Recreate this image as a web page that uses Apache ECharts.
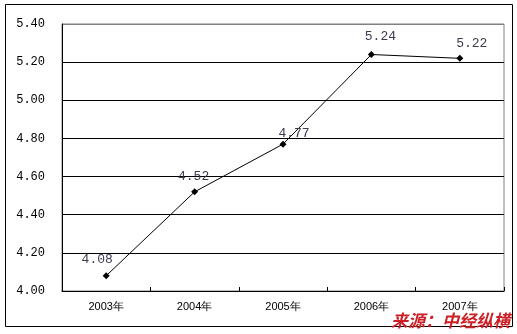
<!DOCTYPE html>
<html><head><meta charset="utf-8">
<script src="https://cdn.jsdelivr.net/npm/echarts@6/dist/echarts.min.js"></script>
<style>html,body{margin:0;padding:0;background:#fff}#c{width:517px;height:334px}</style>
</head><body><div id="c"></div>
<script>
var categories = ['2003年','2004年','2005年','2006年','2007年'];
var values = [4.08, 4.52, 4.77, 5.24, 5.22];
var labelOffsets = [[-9,3],[-1,4],[11,8],[9,1],[12,4]];
var yTicks = {min:4.0, max:5.4, interval:0.2};
var sourceText = '来源：中经纵横';

var chart = echarts.init(document.getElementById('c'));
var data = values.map(function(v,i){
  return {value:v, label:{offset:labelOffsets[i]}};
});
chart.setOption({
  animation:false,
  backgroundColor:'#fff',
  grid:{left:62, top:24, right:13, bottom:43, show:true, borderColor:'#808080', borderWidth:1, backgroundColor:'transparent'},
  xAxis:{type:'category', data:categories, boundaryGap:true,
    axisLine:{lineStyle:{color:'#000', width:1}},
    axisTick:{show:true, inside:true, length:4, alignWithLabel:false, lineStyle:{color:'#000'}},
    axisLabel:{color:'#000', fontSize:11, fontFamily:'Liberation Sans, Arial, sans-serif', margin:10}
  },
  yAxis:{type:'value', min:yTicks.min, max:yTicks.max, interval:yTicks.interval,
    axisLine:{show:true, lineStyle:{color:'#000'}},
    axisTick:{show:false},
    axisLabel:{color:'#000', fontSize:12, fontFamily:'Liberation Mono, monospace', margin:17,
      formatter:function(v){return v.toFixed(2);}},
    splitLine:{show:true, lineStyle:{color:['#000','#000','#000','#000','#000','#000','#000','#808080'], width:1}}
  },
  series:[{type:'line', data:data, symbol:'diamond', symbolSize:7,
    itemStyle:{color:'#000'}, lineStyle:{color:'#000', width:1},
    label:{show:true, position:'top', distance:9, color:'#3c3c50', fontSize:13,
      fontFamily:'Liberation Mono, monospace',
      formatter:function(p){return p.value.toFixed(2);}}
  }],
  graphic:[
    {type:'rect', shape:{x:5.5, y:4.5, width:507, height:322}, style:{fill:'none', stroke:'#000', lineWidth:1}, silent:true},
    {type:'text', left:391, top:312, style:{text:sourceText, fill:'#cc2027', fontSize:17, fontWeight:'bold', fontStyle:'italic', fontFamily:'Noto Sans CJK SC, sans-serif'}}
  ]
});
</script></body></html>
